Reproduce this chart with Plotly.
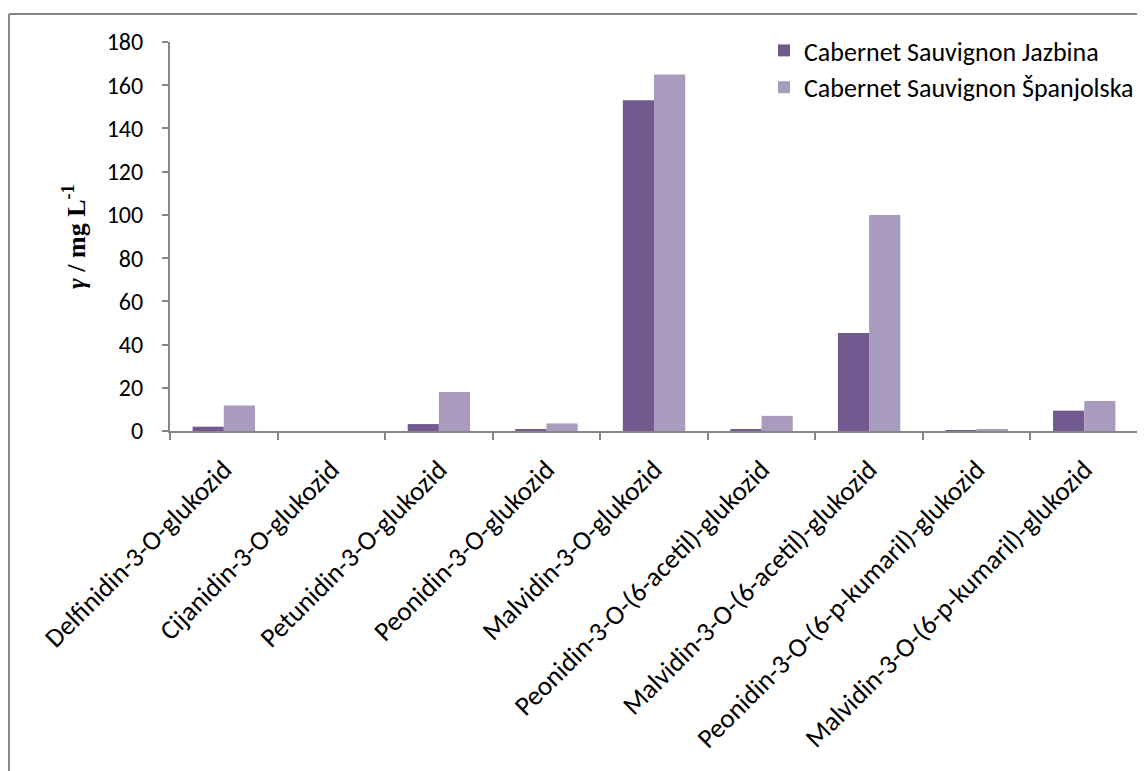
import plotly.graph_objects as go

categories = [
    "Delfinidin-3-O-glukozid",
    "Cijanidin-3-O-glukozid",
    "Petunidin-3-O-glukozid",
    "Peonidin-3-O-glukozid",
    "Malvidin-3-O-glukozid",
    "Peonidin-3-O-(6-acetil)-glukozid",
    "Malvidin-3-O-(6-acetil)-glukozid",
    "Peonidin-3-O-(6-p-kumaril)-glukozid",
    "Malvidin-3-O-(6-p-kumaril)-glukozid",
]
jazbina = [2.0, 0.0, 3.2, 0.6, 153.0, 0.8, 45.3, 0.2, 9.4]
spanjolska = [11.8, 0.0, 18.0, 3.5, 165.0, 7.0, 100.0, 0.9, 13.9]
series_names = ["Cabernet Sauvignon Jazbina", "Cabernet Sauvignon Španjolska"]
y_ticks = [0, 20, 40, 60, 80, 100, 120, 140, 160, 180]
y_title = "<b><i>γ</i> / mg L<sup>-1</sup></b>"

# page body has an 8px margin; figure origin sits at (8, 8) of the window
OFF = 8
W, H = 1145 - OFF, 771 - OFF
# plot area in window coords: x 170..1138, y 42..431
L = 170 - OFF
T = 42 - OFF
R = W - (1138 - OFF)
B = H - (431 - OFF)

fig = go.Figure()
fig.add_bar(x=categories, y=jazbina, name=series_names[0],
            marker=dict(color="#725990", line=dict(width=0)))
fig.add_bar(x=categories, y=spanjolska, name=series_names[1],
            marker=dict(color="#A99BBD", line=dict(width=0)))

font = "Carlito, Lato, 'Open Sans', sans-serif"
pw = W - L - R
ph = H - T - B
def px(x):
    # window x -> paper
    return (x - OFF - L) / pw
def py(y):
    # window y -> paper
    return 1 - (y - OFF - T) / ph

fig.update_layout(
    width=W, height=H,
    margin=dict(l=L, r=R, t=T, b=B, pad=0, autoexpand=False),
    plot_bgcolor="white", paper_bgcolor="white",
    barmode="group", bargap=0.42, bargroupgap=0,
    font=dict(family=font, size=24, color="black"),
    showlegend=True,
    legend=dict(x=px(764), y=py(27), xanchor="left", yanchor="top",
                font=dict(size=26), bgcolor="rgba(0,0,0,0)",
                tracegroupgap=0, itemsizing="constant"),
    xaxis=dict(tickangle=-45, showline=True, linecolor="#868686", linewidth=2,
               ticks="outside", ticklen=7, tickcolor="#868686", tickwidth=2,
               tickson="boundaries", showgrid=False, zeroline=False,
               tickfont=dict(size=27), range=[-0.5, 8.5], automargin=False,
               ticklabelstandoff=10),
    yaxis=dict(range=[0, 180], tickvals=y_ticks, showline=True, linecolor="#868686",
               linewidth=2, ticks="outside", ticklen=6, tickcolor="#868686", tickwidth=2,
               showgrid=False, zeroline=False, tickfont=dict(size=24),
               ticklabelstandoff=14, automargin=False),
)

fig.add_annotation(text=y_title, xref="paper", yref="paper",
                   x=px(75), y=py(237), textangle=-90, showarrow=False,
                   xanchor="center", yanchor="middle",
                   font=dict(family="'Liberation Serif', 'Times New Roman', serif",
                             size=26, color="black"))

fig.add_shape(type="line", xref="paper", yref="paper",
              x0=px(9), x1=px(1145), y0=py(14), y1=py(14),
              line=dict(color="#868686", width=2))
fig.add_shape(type="line", xref="paper", yref="paper",
              x0=px(9), x1=px(9), y0=py(14), y1=py(771),
              line=dict(color="#868686", width=2))

fig.write_html("out.html")
